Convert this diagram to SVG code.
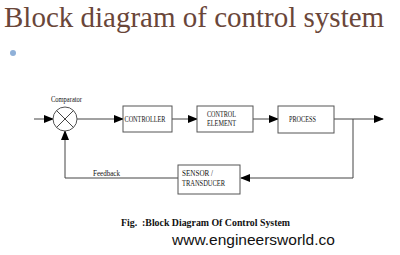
<svg xmlns="http://www.w3.org/2000/svg" width="400" height="255" viewBox="0 0 400 255">
<defs>
<style>
.box{fill:#fff;stroke:#555;stroke-width:1}
.ln{fill:none;stroke:#444;stroke-width:1}
.lbl{font-family:"Liberation Serif",serif;font-size:7.5px;fill:#111}
</style>
<marker id="ah" markerWidth="10" markerHeight="8" refX="9" refY="4" orient="auto" markerUnits="userSpaceOnUse">
<path d="M0,0 L10,4 L0,8 Z" fill="#000"/>
</marker>
</defs>
<rect width="400" height="255" fill="#fff"/>
<text x="4" y="27" font-family="'Liberation Serif',serif" font-size="29" fill="#6a4639">Block diagram of control system</text>
<circle cx="13" cy="53" r="3" fill="#8fb0d8"/>
<g id="connectors">
<path class="ln" d="M34,119 H53" marker-end="url(#ah)"/>
<path class="ln" d="M77,119 H123" marker-end="url(#ah)"/>
<path class="ln" d="M172,119 H197" marker-end="url(#ah)"/>
<path class="ln" d="M253,119 H278" marker-end="url(#ah)"/>
<path class="ln" d="M334,119 H383" marker-end="url(#ah)"/>
<path class="ln" d="M353,119 V178 H241" marker-end="url(#ah)"/>
<path class="ln" d="M178,178 H65 V131" marker-end="url(#ah)"/>
</g>
<g id="comparator">
<circle cx="65" cy="119" r="12" fill="#fff" stroke="#555"/>
<path class="ln" d="M56.5,110.5 L73.5,127.5 M73.5,110.5 L56.5,127.5"/>
<text class="lbl" x="51" y="102" textLength="31" lengthAdjust="spacingAndGlyphs">Comparator</text>
</g>
<g id="controller">
<rect class="box" x="123" y="106" width="49" height="26"/>
<text class="lbl" x="124.5" y="122" textLength="41" lengthAdjust="spacingAndGlyphs">CONTROLLER</text>
</g>
<g id="control-element">
<rect class="box" x="197" y="106" width="56" height="26"/>
<text class="lbl" x="207" y="117" textLength="29" lengthAdjust="spacingAndGlyphs">CONTROL</text>
<text class="lbl" x="207" y="126" textLength="29" lengthAdjust="spacingAndGlyphs">ELEMENT</text>
</g>
<g id="process">
<rect class="box" x="278" y="106" width="56" height="27"/>
<text class="lbl" x="289" y="122" textLength="27" lengthAdjust="spacingAndGlyphs">PROCESS</text>
</g>
<g id="sensor">
<rect class="box" x="178" y="165" width="62" height="29"/>
<text class="lbl" x="182" y="176" textLength="31" lengthAdjust="spacingAndGlyphs">SENSOR /</text>
<text class="lbl" x="182" y="186" textLength="43" lengthAdjust="spacingAndGlyphs">TRANSDUCER</text>
</g>
<text class="lbl" x="93" y="176" textLength="27" lengthAdjust="spacingAndGlyphs">Feedback</text>
<text x="121" y="226" xml:space="preserve" textLength="169" lengthAdjust="spacingAndGlyphs" font-family="'Liberation Serif',serif" font-weight="bold" font-size="10" fill="#111">Fig.  :Block Diagram Of Control System</text>
<text x="172" y="245" font-family="'Liberation Sans',Arial,sans-serif" font-size="15.5" fill="#111">www.engineersworld.co</text>
</svg>
